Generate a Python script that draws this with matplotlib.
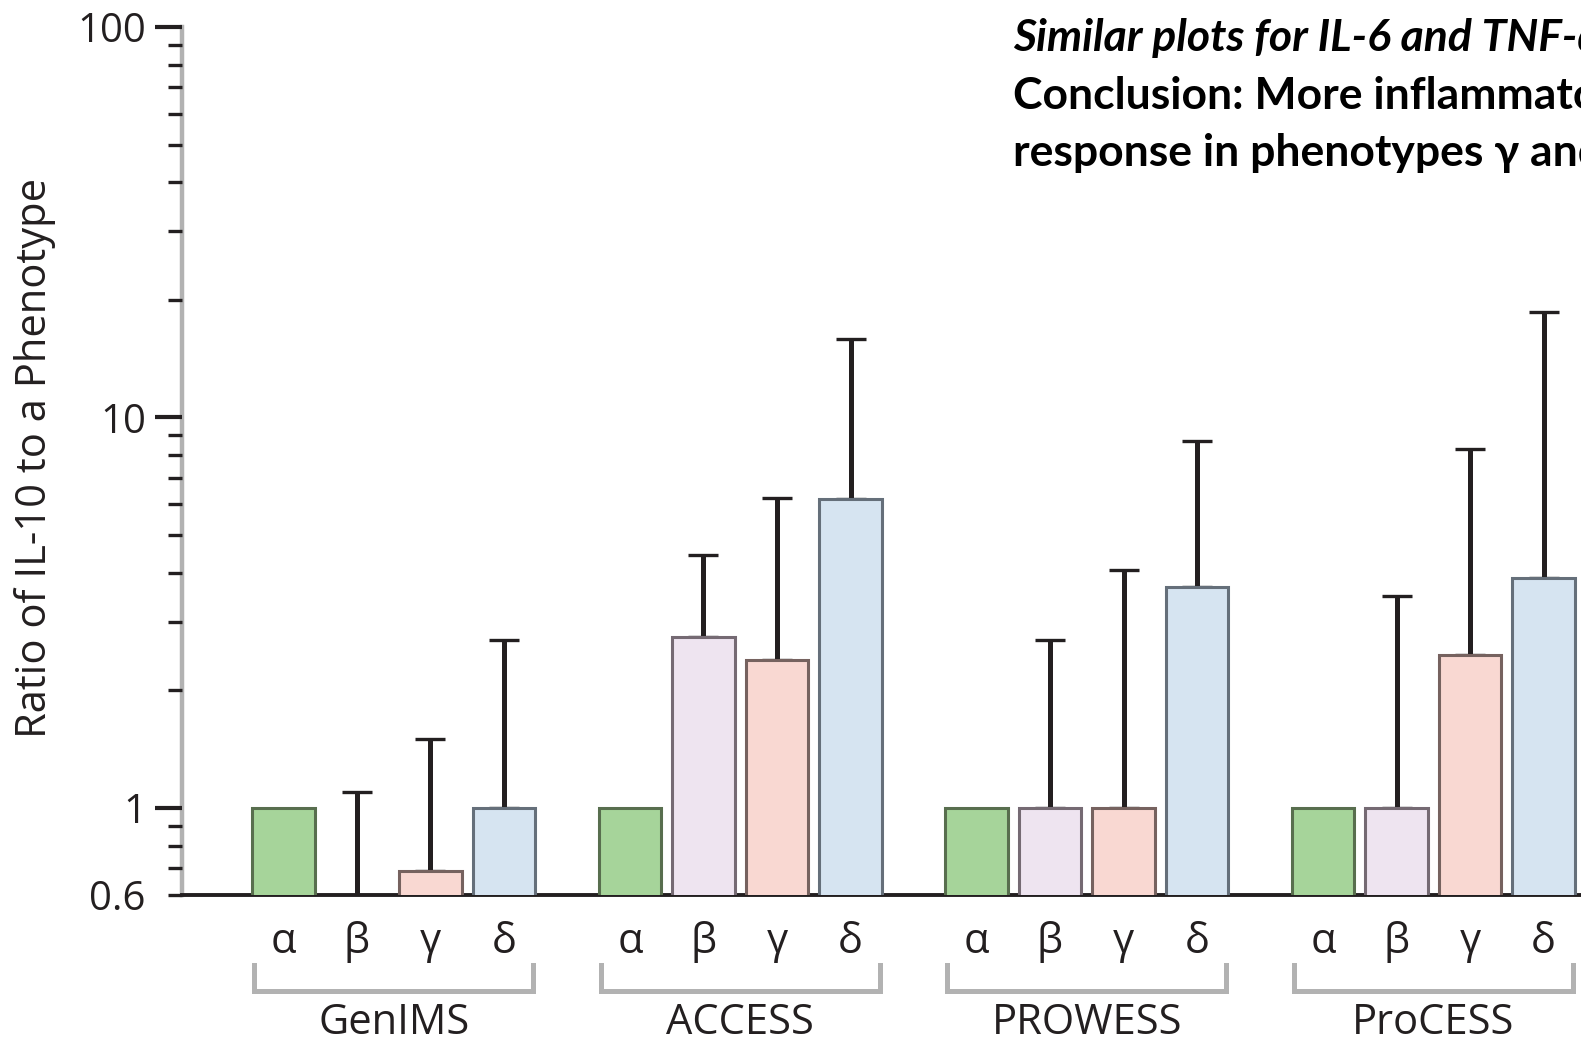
import numpy as np
import matplotlib
matplotlib.use("Agg")
import matplotlib.pyplot as plt
from matplotlib.ticker import FixedLocator, LogLocator, FuncFormatter
from matplotlib.transforms import blended_transform_factory

# ---- data -------------------------------------------------------------
groups = ["GenIMS", "ACCESS", "PROWESS", "ProCESS"]
phenotypes = ["α", "β", "γ", "δ"]

ratio_genims = [1.0, 0.55, 0.69, 1.0]
ratio_access = [1.0, 2.74, 2.39, 6.2]
ratio_prowess = [1.0, 1.0, 1.0, 3.69]
ratio_process = [1.0, 1.0, 2.47, 3.89]

upper_genims = [np.nan, 1.10, 1.50, 2.70]
upper_access = [np.nan, 4.45, 6.22, 15.9]
upper_prowess = [np.nan, 2.70, 4.08, 8.73]
upper_process = [np.nan, 3.49, 8.32, 18.6]

y_major = [1, 10, 100]
y_bottom, y_top = 0.6, 100

ratios = [ratio_genims, ratio_access, ratio_prowess, ratio_process]
uppers = [upper_genims, upper_access, upper_prowess, upper_process]

# ---- style ------------------------------------------------------------
fills = ["#A6D49A", "#EEE4F0", "#F9D8D2", "#D6E4F1"]
edges = ["#586E4E", "#756A73", "#76625F", "#656F7A"]
ink = "#231F20"
grey = "#B2B2B2"
axis_font = ["Open Sans", "DejaVu Sans"]
head_font = ["Lato", "DejaVu Sans"]

group_gap = 0.714
bar_w = 0.85
n_ph = len(phenotypes)

fig = plt.figure(figsize=(15.81, 10.45), dpi=100)
ax = fig.add_axes([0.1151, 0.1439, 0.8849, 0.8303])
ax.set_yscale("log")

for g, (vals, ups) in enumerate(zip(ratios, uppers)):
    base = g * (n_ph + group_gap)
    xs = base + np.arange(n_ph)
    ax.bar(xs, vals, width=bar_w, bottom=0, color=fills, edgecolor=edges,
           linewidth=2.2, zorder=3)
    ups = np.asarray(ups, dtype=float)
    vals = np.asarray(vals, dtype=float)
    has = ~np.isnan(ups)
    ax.errorbar(xs[has], vals[has],
                yerr=[np.zeros(has.sum()), ups[has] - vals[has]],
                fmt="none", ecolor=ink, elinewidth=3.6, capsize=10.8,
                capthick=2.4, zorder=2)

# the plotting area runs to the right edge of the figure
x_left = -1.381
x_right = (len(groups) - 1) * (n_ph + group_gap) + (n_ph - 1) + 0.51
ax.set_xlim(x_left, x_right)
ax.set_ylim(y_bottom, y_top)

# spines
for s in ("top", "right"):
    ax.spines[s].set_visible(False)
ax.spines["left"].set_color(grey)
ax.spines["left"].set_linewidth(3.2)
ax.spines["left"].set_zorder(1)
ax.spines["bottom"].set_color(ink)
ax.spines["bottom"].set_linewidth(2.8)

# y ticks
ax.yaxis.set_major_locator(FixedLocator(y_major))
ax.yaxis.set_major_formatter(FuncFormatter(lambda v, p: f"{v:g}"))
ax.yaxis.set_minor_locator(LogLocator(base=10, subs=np.arange(2, 10)))
ax.yaxis.set_minor_formatter(
    FuncFormatter(lambda v, p: f"{y_bottom:g}" if abs(v - y_bottom) < 1e-9 else ""))
ax.tick_params(axis="y", which="major", length=19.4, width=3.0, color=ink,
               pad=6.5, labelsize=29, labelcolor=ink)
ax.tick_params(axis="y", which="minor", length=10, width=2.4, color=ink,
               pad=16, labelsize=29, labelcolor=ink)
for lab in ax.get_yticklabels(which="both"):
    lab.set_family(axis_font)
ax.set_xticks([])

# phenotype letters, brackets and group names under the axis
tr = blended_transform_factory(ax.transData, fig.transFigure)
for g, name in enumerate(groups):
    base = g * (n_ph + group_gap)
    xs = base + np.arange(n_ph)
    for x, ph in zip(xs, phenotypes):
        ax.text(x, 0.088, ph, transform=tr, ha="center", va="baseline",
                fontsize=30, color=ink, family=axis_font)
    xl = xs[0] - bar_w / 2 + 0.03
    xr = xs[-1] + bar_w / 2 - 0.03
    ax.plot([xl, xl, xr, xr], [0.0766, 0.0517, 0.0517, 0.0766], transform=tr,
            color=grey, lw=3.6, solid_joinstyle="miter", clip_on=False)
    ax.text((xs[0] + xs[-1]) / 2, 0.001, name, transform=tr, ha="center",
            va="bottom", fontsize=30, color=ink, family=axis_font)

fig.text(0.022, 0.5617, "Ratio of IL-10 to a Phenotype", rotation=90,
         ha="center", va="center", fontsize=30, color=ink, family=axis_font)

# headline notes in the upper right
fig.text(0.6407, 0.9512, "Similar plots for IL-6 and TNF-α", ha="left",
         va="baseline", fontsize=32, fontweight="bold", fontstyle="italic",
         color="black", family=head_font)
fig.text(0.6407, 0.8957, "Conclusion: More inflammatory", ha="left",
         va="baseline", fontsize=32, fontweight="bold", color="black",
         family=head_font)
fig.text(0.6407, 0.8411, "response in phenotypes γ and δ", ha="left",
         va="baseline", fontsize=32, fontweight="bold", color="black",
         family=head_font)

fig.savefig("out.png", dpi=100)
